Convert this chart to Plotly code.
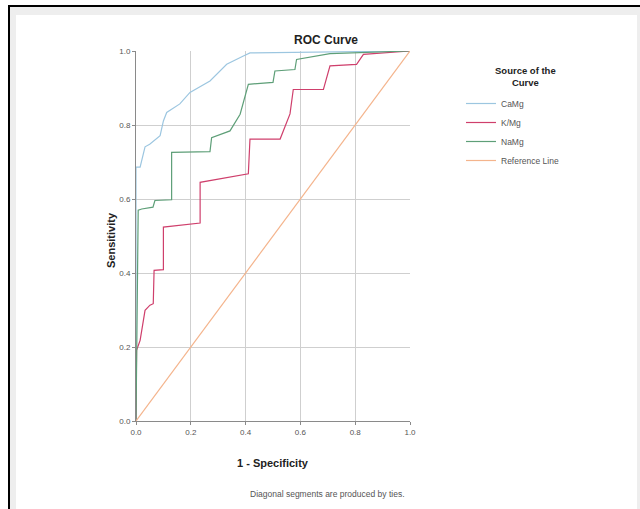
import plotly.graph_objects as go

# ---- data ----
ca_fpr = [0, 0, 0.015, 0.033, 0.05, 0.088, 0.10, 0.112, 0.16, 0.197, 0.27, 0.331, 0.39, 0.416, 1.0]
ca_tpr = [0, 0.686, 0.686, 0.741, 0.748, 0.771, 0.811, 0.834, 0.857, 0.888, 0.919, 0.964, 0.986, 0.995, 1.0]

k_fpr = [0, 0.002, 0.015, 0.033, 0.051, 0.063, 0.066, 0.10, 0.10, 0.197, 0.234, 0.234, 0.41, 0.416,
         0.526, 0.562, 0.574, 0.684, 0.708, 0.805, 0.83, 1.0]
k_tpr = [0, 0.191, 0.218, 0.299, 0.313, 0.317, 0.407, 0.409, 0.524, 0.531, 0.535, 0.645, 0.668, 0.762,
         0.762, 0.83, 0.896, 0.896, 0.96, 0.964, 0.991, 1.0]

na_fpr = [0, 0.008, 0.021, 0.062, 0.069, 0.13, 0.13, 0.27, 0.276, 0.343, 0.38, 0.41, 0.50, 0.507,
          0.58, 0.586, 0.708, 1.0]
na_tpr = [0, 0.57, 0.573, 0.578, 0.596, 0.598, 0.726, 0.728, 0.766, 0.784, 0.829, 0.91, 0.915, 0.946,
          0.95, 0.977, 0.993, 1.0]

ref_x = [0, 1]
ref_y = [0, 1]

series_names = ["CaMg", "K/Mg", "NaMg", "Reference Line"]
series_colors = ["#9cc6e0", "#cf3f6c", "#5e9f78", "#f4b48c"]
tick_vals = [0.0, 0.2, 0.4, 0.6, 0.8, 1.0]
tick_text = ["0.0", "0.2", "0.4", "0.6", "0.8", "1.0"]

# ---- layout geometry (pixels) ----
W, H = 640, 509
ML, MR, MT, MB = 136, 230, 51, 88
PW, PH = W - ML - MR, H - MT - MB


def px(x):
    return (x - ML) / PW


def py(y):
    return 1 - (y - MT) / PH


fig = go.Figure()
for xs, ys, name, col in [(ca_fpr, ca_tpr, series_names[0], series_colors[0]),
                          (k_fpr, k_tpr, series_names[1], series_colors[1]),
                          (na_fpr, na_tpr, series_names[2], series_colors[2]),
                          (ref_x, ref_y, series_names[3], series_colors[3])]:
    fig.add_trace(go.Scatter(x=xs, y=ys, mode="lines", name=name,
                             line=dict(color=col, width=1.2)))

font_family = "Liberation Sans, Arial, sans-serif"

axis_common = dict(
    range=[0, 1], tickvals=tick_vals, ticktext=tick_text,
    showgrid=True, gridcolor="#cfcfcf", gridwidth=1,
    showline=True, linecolor="#8a8a8a", linewidth=1,
    ticks="outside", ticklen=3, tickcolor="#8a8a8a",
    tickfont=dict(size=8, color="#555555", family=font_family),
    zeroline=False, mirror=False,
)

fig.update_layout(
    width=W, height=H,
    margin=dict(l=ML, r=MR, t=MT, b=MB, pad=0),
    paper_bgcolor="white", plot_bgcolor="white",
    font=dict(family=font_family, color="#333333"),
    xaxis=dict(**axis_common),
    yaxis=dict(**axis_common),
    showlegend=True,
    legend=dict(
        x=px(461), y=py(89), xanchor="left", yanchor="top",
        bgcolor="rgba(0,0,0,0)",
        font=dict(size=8.5, color="#555555", family=font_family),
        itemwidth=30,
        tracegroupgap=0,
    ),
    annotations=[
        dict(text="<b>Source of the<br>Curve</b>", x=px(525), y=py(77), xref="paper", yref="paper",
             showarrow=False, xanchor="center", yanchor="middle", align="center",
             font=dict(size=9.5, color="#222222", family=font_family)),
        dict(text="<b>ROC Curve</b>", x=px(326), y=py(40), xref="paper", yref="paper",
             showarrow=False, xanchor="center", yanchor="middle",
             font=dict(size=12, color="#222222", family=font_family)),
        dict(text="<b>Sensitivity</b>", x=px(111), y=py(240), xref="paper", yref="paper",
             showarrow=False, xanchor="center", yanchor="middle", textangle=-90,
             font=dict(size=11, color="#222222", family=font_family)),
        dict(text="<b>1 - Specificity</b>", x=px(273), y=py(463), xref="paper", yref="paper",
             showarrow=False, xanchor="center", yanchor="middle",
             font=dict(size=11, color="#222222", family=font_family)),
        dict(text="Diagonal segments are produced by ties.", x=px(327), y=py(494),
             xref="paper", yref="paper", showarrow=False, xanchor="center", yanchor="middle",
             font=dict(size=8.5, color="#555555", family=font_family)),
    ],
    shapes=[
        dict(type="rect", xref="paper", yref="paper", layer="below",
             x0=px(8), x1=px(700), y0=py(5), y1=py(700),
             fillcolor="black", line=dict(width=0)),
        dict(type="rect", xref="paper", yref="paper", layer="below",
             x0=px(10), x1=px(700), y0=py(7), y1=py(700),
             fillcolor="#eeeeee", line=dict(width=0)),
        dict(type="rect", xref="paper", yref="paper", layer="below",
             x0=px(16), x1=px(637), y0=py(15), y1=py(700),
             fillcolor="white", line=dict(width=0)),
    ],
)

fig.write_html(
    "out.html",
    config={"displayModeBar": False},
    post_script="document.body.style.margin='0';document.body.style.overflow='hidden';",
)
